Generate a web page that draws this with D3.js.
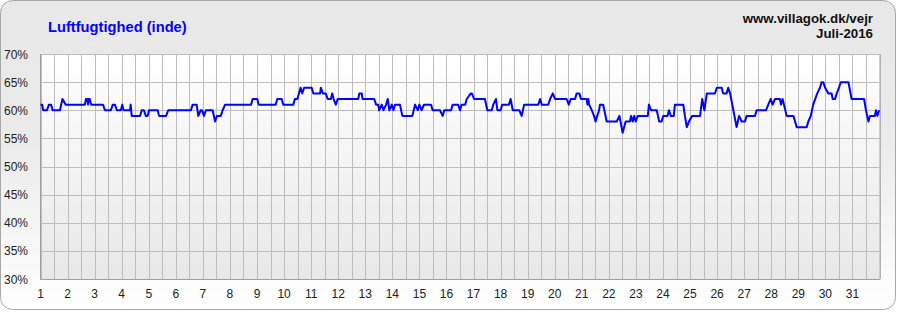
<!DOCTYPE html>
<html>
<head>
<meta charset="utf-8">
<script src="https://cdn.jsdelivr.net/npm/d3@7"></script>
<style>
body { margin: 0; background: #fff; }
svg { display: block; font-family: Arial, "Liberation Sans", sans-serif; }
</style>
</head>
<body>
<svg width="897" height="312"></svg>
<script>
// tidspunkt (dag i maaneden) og luftfugtighed i %
const days = [1.00,1.06,1.10,1.24,1.31,1.39,1.45,1.72,1.81,1.93,2.64,2.68,2.73,2.76,2.78,2.82,2.87,3.31,3.38,3.60,3.67,3.75,3.82,3.97,4.02,4.07,4.31,4.33,4.37,4.68,4.74,4.82,4.89,4.96,5.01,5.33,5.38,5.64,5.72,6.56,6.62,6.77,6.83,6.92,6.97,7.04,7.11,7.36,7.45,7.52,7.66,7.73,7.82,8.78,8.84,9.01,9.06,9.69,9.75,9.91,9.97,10.34,10.40,10.49,10.61,10.67,10.74,11.02,11.08,11.33,11.36,11.43,11.54,11.61,11.73,11.78,11.83,11.91,11.98,12.74,12.78,12.87,12.90,13.33,13.40,13.48,13.51,13.61,13.67,13.77,13.83,13.89,13.98,14.04,14.10,14.28,14.37,14.74,14.84,14.94,15.00,15.08,15.17,15.43,15.49,15.76,15.86,15.92,16.17,16.23,16.43,16.50,16.56,16.69,16.75,16.90,16.94,17.02,17.42,17.51,17.67,17.73,17.83,17.88,18.00,18.06,18.31,18.37,18.45,18.69,18.78,18.87,19.39,19.46,19.52,19.76,19.83,19.93,20.01,20.44,20.52,20.59,20.75,20.81,20.91,20.97,21.18,21.21,21.24,21.27,21.37,21.45,21.51,21.57,21.64,21.67,21.79,21.92,22.29,22.39,22.51,22.62,22.78,22.82,22.88,22.94,22.99,23.07,23.44,23.48,23.56,23.77,23.86,23.95,24.01,24.17,24.22,24.29,24.40,24.44,24.75,24.81,24.88,24.96,25.08,25.37,25.45,25.53,25.62,25.92,25.99,26.17,26.22,26.35,26.41,26.48,26.60,26.64,26.72,26.81,26.91,27.03,27.09,27.40,27.46,27.81,27.89,27.98,28.05,28.14,28.32,28.36,28.42,28.47,28.57,28.82,28.88,28.94,29.31,29.37,29.46,29.55,29.70,29.80,29.86,29.92,29.99,30.11,30.23,30.27,30.36,30.42,30.50,30.57,30.85,30.97,31.43,31.50,31.59,31.65,31.83,31.87,31.92,31.99];
const humidity = [61,61,60,60,61,61,60,60,62,61,61,62,62,61,62,62,61,61,60,60,61,61,60,60,61,60,60,61,59,59,60,60,59,59,60,60,59,59,60,60,61,61,59,60,60,59,60,60,58,59,59,60,61,61,62,62,61,61,62,62,61,61,62,62,64,63,64,64,63,63,64,63,63,62,62,63,62,61,62,62,63,63,62,62,61,61,60,61,60,61,62,60,61,60,61,61,59,59,61,60,61,60,61,61,60,60,59,60,60,61,61,60,61,61,62,63,63,62,62,60,60,61,62,60,60,61,61,62,60,60,59,61,61,62,61,61,62,63,62,62,61,62,62,63,63,62,62,61,62,61,60,59,58,59,60,61,61,58,58,59,56,58,58,59,58,59,58,59,59,61,60,60,58,58,59,59,60,59,59,61,61,59,57,58,59,59,62,60,63,63,64,64,63,63,64,63,60,59,57,59,58,58,59,59,60,60,61,62,61,62,62,61,62,61,59,59,58,57,57,58,59,61,63,64,65,65,64,63,63,62,62,63,64,65,65,62,62,60,58,59,59,60,59,60];

const dayTicks = [1,2,3,4,5,6,7,8,9,10,11,12,13,14,15,16,17,18,19,20,21,22,23,24,25,26,27,28,29,30,31];
const pctTicks = [30,35,40,45,50,55,60,65,70];

const title = "Luftfugtighed (inde)";
const site = "www.villagok.dk/vejr";
const month = "Juli-2016";

const svg = d3.select("svg");
const plotL = 40.5, plotR = 879.5, plotT = 54, plotB = 279;

const x = d3.scaleLinear().domain([1, 32]).range([plotL, plotR]);
const y = d3.scaleLinear().domain([30, 70]).range([plotB, plotT]);

// gradients
const defs = svg.append("defs");
const bg = defs.append("linearGradient").attr("id", "bg").attr("x1", 0).attr("y1", 0).attr("x2", 0).attr("y2", 1);
bg.append("stop").attr("offset", "0%").attr("stop-color", "#e8e8e8");
bg.append("stop").attr("offset", "45%").attr("stop-color", "#ebebeb");
bg.append("stop").attr("offset", "100%").attr("stop-color", "#ffffff");
const pg = defs.append("linearGradient").attr("id", "pg").attr("x1", 0).attr("y1", 0).attr("x2", 0).attr("y2", 1);
pg.append("stop").attr("offset", "0%").attr("stop-color", "#ffffff");
pg.append("stop").attr("offset", "100%").attr("stop-color", "#e8e8e8");

// outer frame
svg.append("rect")
  .attr("x", 0.5).attr("y", 0.5)
  .attr("width", 895).attr("height", 309)
  .attr("rx", 12).attr("ry", 12)
  .attr("fill", "url(#bg)")
  .attr("stroke", "#a8a8a8");

// plot area
svg.append("rect")
  .attr("x", plotL).attr("y", plotT)
  .attr("width", plotR - plotL).attr("height", plotB - plotT)
  .attr("fill", "url(#pg)");

// grid: vertical every half day
const halfDays = d3.range(1, 32.01, 0.5);
svg.append("g").selectAll("line")
  .data(halfDays)
  .join("line")
  .attr("x1", d => Math.round(x(d)) + 0.5).attr("x2", d => Math.round(x(d)) + 0.5)
  .attr("y1", plotT).attr("y2", plotB)
  .attr("stroke", "#bdbdbd");

svg.append("g").selectAll("line")
  .data(pctTicks)
  .join("line")
  .attr("x1", plotL).attr("x2", plotR)
  .attr("y1", d => Math.round(y(d)) + 0.5).attr("y2", d => Math.round(y(d)) + 0.5)
  .attr("stroke", "#bdbdbd");

// axis lines
svg.append("line")
  .attr("x1", plotL).attr("x2", plotL).attr("y1", plotT).attr("y2", plotB + 0.5)
  .attr("stroke", "#a0a0a0");
svg.append("line")
  .attr("x1", plotL).attr("x2", plotR + 0.5).attr("y1", plotB + 0.5).attr("y2", plotB + 0.5)
  .attr("stroke", "#a0a0a0");
svg.append("line")
  .attr("x1", plotR + 0.5).attr("x2", plotR + 0.5).attr("y1", plotT).attr("y2", plotB + 0.5)
  .attr("stroke", "#a8a8a8");

// y labels
svg.append("g").selectAll("text")
  .data(pctTicks)
  .join("text")
  .attr("x", 28).attr("y", d => y(d) + 4.5)
  .attr("text-anchor", "end")
  .attr("font-size", 12)
  .attr("fill", "#222")
  .text(d => d + "%");

// x labels
svg.append("g").selectAll("text")
  .data(dayTicks)
  .join("text")
  .attr("x", d => x(d)).attr("y", 298)
  .attr("text-anchor", "middle")
  .attr("font-size", 12)
  .attr("fill", "#222")
  .text(d => d);

// line
const pts = days.map((d, i) => [d, humidity[i]]);
const line = d3.line().x(d => x(d[0])).y(d => y(d[1]));
svg.append("path")
  .datum(pts)
  .attr("d", line)
  .attr("fill", "none")
  .attr("stroke", "#0000ff")
  .attr("stroke-width", 2)
  .attr("stroke-linejoin", "round");

// texts
svg.append("text")
  .attr("x", 48).attr("y", 31.5)
  .attr("font-size", 14.7).attr("font-weight", "bold")
  .attr("fill", "#0000ff")
  .text(title);

svg.append("text")
  .attr("x", 873).attr("y", 23)
  .attr("text-anchor", "end")
  .attr("font-size", 13.3).attr("font-weight", "bold")
  .attr("fill", "#111")
  .text(site);
svg.append("text")
  .attr("x", 873).attr("y", 37.5)
  .attr("text-anchor", "end")
  .attr("font-size", 13.3).attr("font-weight", "bold")
  .attr("fill", "#111")
  .text(month);
</script>
</body>
</html>
